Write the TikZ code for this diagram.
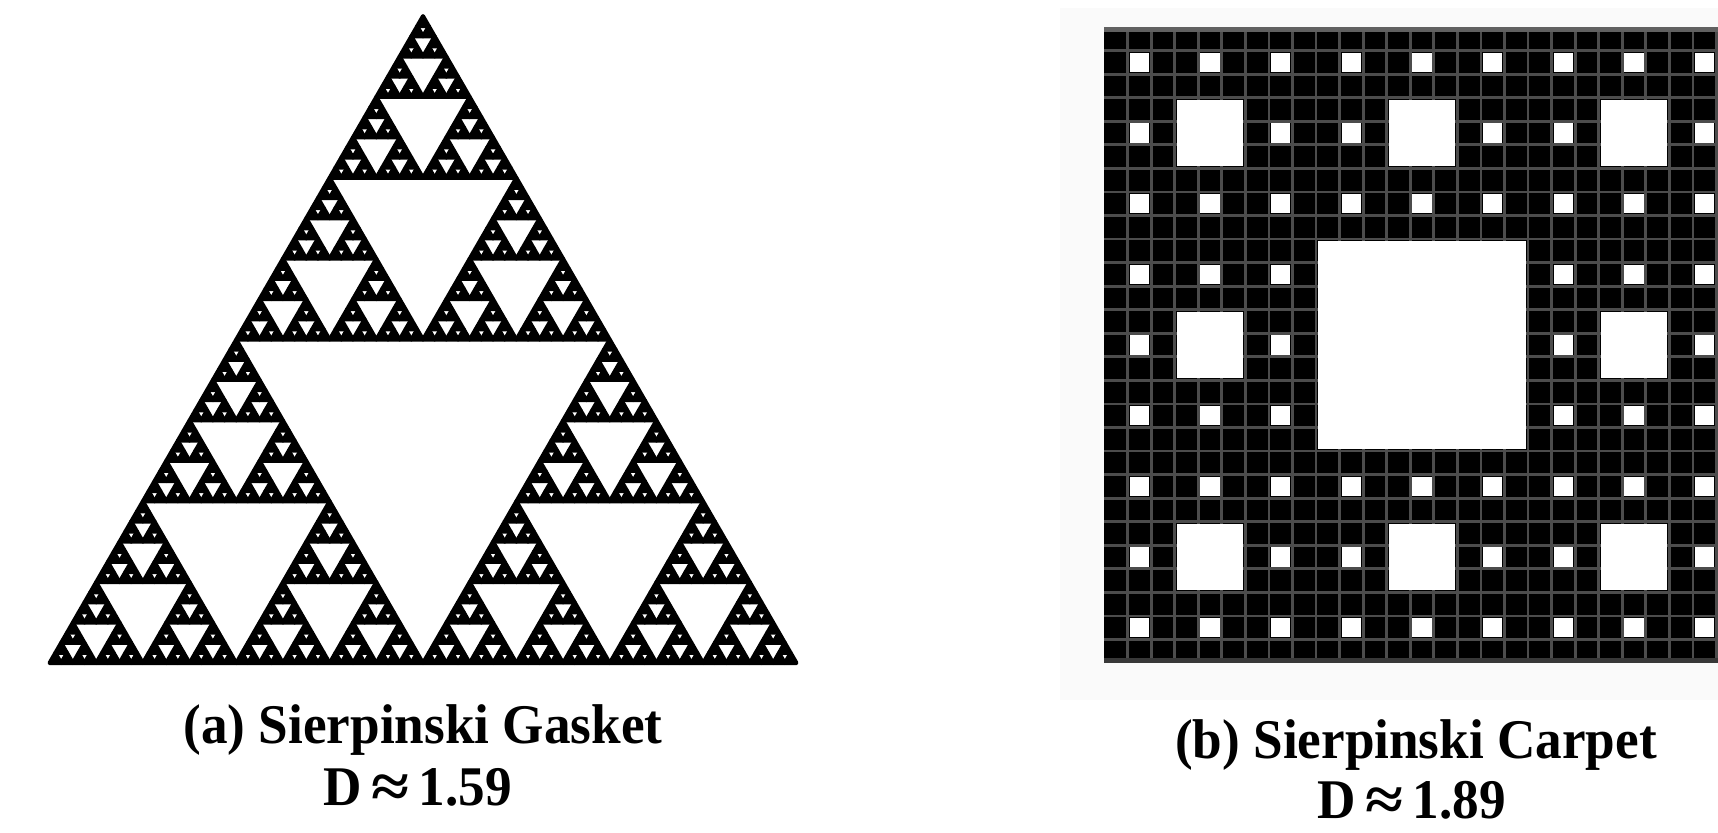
\documentclass[tikz,border=0pt]{standalone}
\usepackage{fontspec}
\setmainfont{Liberation Serif}
\newfontfamily\capfont[FakeStretch=0.95]{Liberation Serif}
\tikzset{
  gasketfill/.style={fill=black,draw=black,line width=2pt,line join=round},
  gridline/.style={draw=black!70,line width=1.4pt},
  holefill/.style={fill=white},
  captext/.style={font=\capfont\fontsize{28pt}{32pt}\selectfont\bfseries,inner sep=0pt,anchor=base},
}
\newcommand\apx{\,\raisebox{-0.04em}{\scalebox{1.3}[1.1]{≈}}\,}
\newcommand\gsk[4]{%
  \ifnum#1=0\relax
    \path[gasketfill] (#2,#3) -- ++(#4,0) -- ++({-#4/2},{-0.8660254*#4}) -- cycle;
  \else
    {\pgfmathsetmacro\hs{#4/2}%
     \pgfmathsetmacro\xm{#2+\hs}%
     \pgfmathsetmacro\xq{#2+\hs/2}%
     \pgfmathsetmacro\yq{#3-0.8660254*\hs}%
     \pgfmathtruncatemacro\dd{#1-1}%
     \edef\tmp{\noexpand\gsk{\dd}{#2}{#3}{\hs}\noexpand\gsk{\dd}{\xm}{#3}{\hs}\noexpand\gsk{\dd}{\xq}{\yq}{\hs}}%
     \tmp}%
  \fi}
\begin{document}
\begin{tikzpicture}[x=0.5pt,y=-0.5pt]
\useasboundingbox (0,0) rectangle (1718,832);
\clip (0,0) rectangle (1718,832);
\fill[white] (0,0) rectangle (1718,832);
% ---- Sierpinski gasket ----
\gsk{6}{49.5}{663}{747}
% ---- Sierpinski carpet ----
\fill[black!2] (1060,8) rectangle (1718,700);
\fill[black] (1104,27) rectangle (1740,663);
\foreach \k in {1,...,26} {
  \draw[gridline] ({1104+\k*23.556},27) -- ({1104+\k*23.556},663);
  \draw[gridline] (1104,{27+\k*23.556}) -- (1740,{27+\k*23.556});
}
\fill[black!62] (1104,27) rectangle (1740,32);
\fill[black!78] (1104,658) rectangle (1740,663);
\foreach \i in {0,...,8} {
  \foreach \j in {0,...,8} {
    \fill[holefill] ({1104+(3*\i+1)*23.556+2},{27+(3*\j+1)*23.556+2}) rectangle ++(19.5,19.5);
  }
}
\foreach \a in {0,1,2} {
  \foreach \b in {0,1,2} {
    \fill[holefill] ({1104+(9*\a+3)*23.556+2},{27+(9*\b+3)*23.556+2}) rectangle ++(66.7,66.7);
  }
}
\fill[holefill] ({1104+9*23.556+2},{27+9*23.556+2}) rectangle ++(208,208);
% ---- captions ----
\node[captext] (capA1) at (423,743) {(a) Sierpinski Gasket};
\node[captext] (capA2) at (418,805) {D\apx1.59};
\node[captext] (capB1) at (1416,758) {(b) Sierpinski Carpet};
\node[captext] (capB2) at (1412,818) {D\apx1.89};
\end{tikzpicture}
\end{document}
